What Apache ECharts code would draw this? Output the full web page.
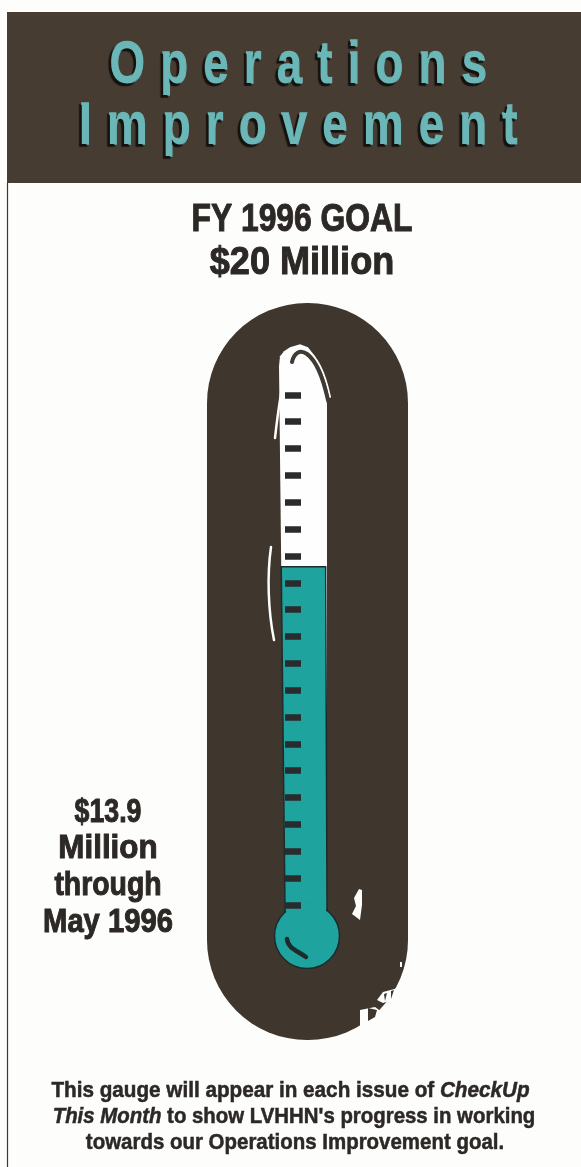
<!DOCTYPE html>
<html>
<head>
<meta charset="utf-8">
<style>html,body{margin:0;padding:0;background:#fdfdfb}#gauge{width:581px;height:1167px}</style>
<script src="https://cdn.jsdelivr.net/npm/echarts@6/dist/echarts.min.js"></script>
</head>
<body>
<div id="gauge"></div>
<script>
// Gauge values, in millions of dollars
const progressValue = [13.9];
const tubeTopValue = [21.8];
const graduationValues = [1.90, 2.86, 3.81, 4.76, 5.71, 6.67, 7.62, 8.57, 9.52, 10.48,
  11.43, 12.38, 13.33, 14.29, 15.24, 16.19, 17.14, 18.10, 19.05, 20];

// Text
const headerLines = ['Operations', 'Improvement'];
const goalLines = ['FY 1996 GOAL', '$20 Million'];
const progressLines = ['$13.9', 'Million', 'through', 'May 1996'];
const noteLines = [
  'This gauge will appear in each issue of {i|CheckUp}',
  '{i|This Month} to show LVHHN\'s progress in working',
  'towards our Operations Improvement goal.'
];

const DARK = '#3f362d', HEADER = '#463c31', TEAL = '#1fa39f', HEADER_TEAL = '#6bb6b7', INK = '#2c2826';
const NARROW = '"Liberation Sans Narrow","Liberation Sans",sans-serif';
const spaced = s => s.split('').join('\u2004');

function textEl(text, x, y, size, squeeze, extra) {
  return {
    type: 'text', x, y, scaleX: squeeze, z: 5,
    style: Object.assign({
      text, fill: INK, font: `bold ${size}px ${NARROW}`,
      align: 'center', verticalAlign: 'middle',
      stroke: INK, lineWidth: 1
    }, extra || {})
  };
}
function curve(x1, y1, cx1, cy1, cx2, cy2, x2, y2, color, w) {
  return {
    type: 'bezierCurve', z: 20,
    shape: { x1, y1, cpx1: cx1, cpy1: cy1, cpx2: cx2, cpy2: cy2, x2, y2 },
    style: { stroke: color, lineWidth: w, fill: null, lineCap: 'round' }
  };
}
function blotch(points, color) {
  return { type: 'polygon', z: 20, shape: { points }, style: { fill: color || '#fdfdfb' } };
}

const graphics = [
  { type: 'rect', z: 0, shape: { x: 7, y: 12, width: 574, height: 171 }, style: { fill: HEADER } },
  { type: 'line', z: 0, shape: { x1: 7.5, y1: 183, x2: 7.5, y2: 1167 }, style: { stroke: '#3a3a3a', lineWidth: 1.2 } },
  { type: 'rect', z: 0, shape: { x: 207, y: 303, width: 201, height: 737, r: 100 }, style: { fill: DARK } },
  // highlights around the tube
  curve(285, 358, 292, 340, 318, 340, 330, 397, '#fdfdfb', 2),
  curve(292, 362, 296, 344, 316, 346, 328, 400, '#3f3a34', 4),
  curve(282, 388, 279, 405, 277, 420, 275, 438, '#fdfdfb', 2.5),
  curve(271, 547, 267, 575, 268, 610, 274, 640, '#fdfdfb', 2.5),
  // worn print at the lower right of the capsule
  blotch([[359, 889], [362, 890], [362, 905], [360, 920], [352, 914], [356, 906], [354, 898]]),
  blotch([[360, 1010], [375, 1007], [382, 1012], [377, 1017], [368, 1022], [363, 1027], [360, 1027]]),
  blotch([[368, 1008], [377, 1010], [375, 1017], [368, 1021]], DARK),
  blotch([[377, 1000], [383, 992], [398, 988], [393, 1000], [383, 1003]]),
  blotch([[384, 994], [387, 993], [385, 1001]], DARK),
  blotch([[391, 991], [394, 990], [391, 999]], DARK),
  blotch([[400, 962], [402, 962], [402, 967], [400, 967]])
];

headerLines.forEach((line, i) => {
  graphics.push(textEl(spaced(line), 298, [66, 127][i], 60, 0.76, {
    fill: HEADER_TEAL, stroke: HEADER_TEAL, lineWidth: 1.6,
    textShadowColor: '#15110e', textShadowBlur: 1, textShadowOffsetX: -2, textShadowOffsetY: 2
  }));
});
goalLines.forEach((line, i) => graphics.push(textEl(line, 302, [220, 263][i], 39, [0.816, 0.925][i])));
progressLines.forEach((line, i) => graphics.push(textEl(line, 108, [813, 849, 886, 923][i], 33, [0.81, 0.95, 0.86, 0.885][i])));
noteLines.forEach((line, i) => {
  graphics.push(textEl(line, [290.5, 294, 295][i], [1091, 1117, 1143][i], 22, [0.94, 0.927, 0.93][i], {
    lineWidth: 0.5,
    rich: { i: { font: `italic bold 22px ${NARROW}`, fill: INK, stroke: INK, lineWidth: 0.5 } }
  }));
});

// The printed tube leans slightly: its edges drift outward toward the bulb.
const leftEdge = y => 279 + (y - 365) * 6 / 543;
const rightEdge = y => 325 + (y - 400) * 2 / 508;

function stemFill(params, api) {
  const top = api.coord([0, api.value(1)])[1];
  const base = api.coord([0, 1.5])[1];
  const bulbY = api.coord([0, 0.8])[1];
  return {
    type: 'group',
    children: [
      {
        type: 'polygon',
        shape: { points: [[leftEdge(top), top], [rightEdge(top), top], [rightEdge(base), base], [leftEdge(base), base]] },
        style: { fill: TEAL, stroke: '#1d2b2c', lineWidth: 1.5 }
      },
      {
        type: 'circle',
        shape: { cx: 307, cy: bulbY, r: 32.5 },
        style: { fill: TEAL, stroke: '#1d2b2c', lineWidth: 1.5 }
      },
      // open the seam where stem meets bulb
      {
        type: 'rect',
        shape: { x: leftEdge(base) + 1, y: base - 14, width: rightEdge(base) - leftEdge(base) - 2, height: 24 },
        style: { fill: TEAL }
      },
      {
        type: 'bezierCurve',
        shape: { x1: 287, y1: 939, cpx1: 288, cpy1: 948, cpx2: 296, cpy2: 950, x2: 306, y2: 957 },
        style: { stroke: '#1d2b2c', lineWidth: 4.5, fill: null, lineCap: 'round' }
      }
    ]
  };
}
function tubeShape(params, api) {
  const top = api.coord([0, api.value(1)])[1];
  const base = api.coord([0, 1.5])[1];
  const pts = [[leftEdge(base), base], [leftEdge(top + 22), top + 22]];
  const shoulder = [[280, top + 12], [284, top + 7], [290, top + 3], [300, top],
    [308, top + 3], [315, top + 12], [321, top + 28], [325, top + 45], [327, top + 60]];
  pts.push(...shoulder, [rightEdge(base), base]);
  return { type: 'polygon', shape: { points: pts }, style: { fill: '#fefefe' } };
}

const chart = echarts.init(document.getElementById('gauge'));
chart.setOption({
  animation: false,
  backgroundColor: '#fdfdfb',
  grid: { left: 285, width: 44, top: 338.6, bottom: 208.4 },
  xAxis: { type: 'category', data: ['FY 1996'], show: false },
  yAxis: {
    type: 'value', min: 0, max: 22, z: 10,
    axisLine: { show: false },
    axisLabel: { show: false },
    splitLine: { show: false },
    axisTick: {
      show: true, inside: true, length: 16,
      customValues: graduationValues,
      lineStyle: { color: '#2a2b2c', width: 6.5 }
    }
  },
  series: [
    { type: 'custom', name: 'Tube', z: 3, clip: false, renderItem: tubeShape, data: tubeTopValue.map((v, i) => [i, v]) },
    { type: 'custom', name: 'Progress', z: 4, clip: false, renderItem: stemFill, data: progressValue.map((v, i) => [i, v]) }
  ],
  graphic: { elements: graphics }
});
</script>
</body>
</html>
